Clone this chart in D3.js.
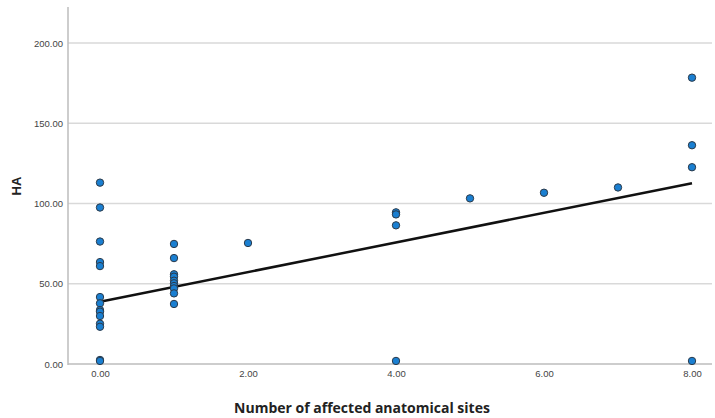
<!DOCTYPE html>
<html><head><meta charset="utf-8">
<script src="https://cdn.jsdelivr.net/npm/d3@7"></script>
<style>body{margin:0;background:#fff}</style>
</head><body>
<svg id="c" width="715" height="418"></svg>
<script>
const xVals = [0,0,0,0,0,0,0,0,0,0,0,0,0,0,
               1,1,1,1,1,1,1,1,1,1,
               2,
               4,4,4,4,
               5,6,7,
               8,8,8,8];
const yVals = [113,97.5,76.3,63.5,61,41.7,37.8,33.6,32.6,29.9,25.1,23.2,2.5,1.9,
               74.8,66,55.9,54.4,51.9,50.3,48.6,47.1,44,37.4,
               75.4,
               94.5,93.2,86.4,1.9,
               103.2,106.7,110,
               178.4,136.3,122.6,1.9];
const xTicks = [0,2,4,6,8];
const yTicks = [0,50,100,150,200];
const fitIntercept = 38.8, fitSlope = 9.23;

(function(){
const svg = d3.select("#c");
const x = d3.scaleLinear().domain([0,8]).range([100,692]);
const y = d3.scaleLinear().domain([0,200]).range([364,43]);
const L = 68, R = 712, T = 7, B = 364;

svg.append("g").selectAll("line").data(yTicks.filter(d=>d>0)).join("line")
  .attr("x1",L).attr("x2",R).attr("y1",d=>y(d)).attr("y2",d=>y(d))
  .attr("stroke","#d9d9d9").attr("stroke-width",1.5);

const yAxis = d3.axisLeft(y).tickValues(yTicks).tickFormat(d3.format(".2f")).tickSize(0).tickPadding(5);
const gy = svg.append("g").attr("transform",`translate(${L},0)`).call(yAxis);
gy.select(".domain").remove();
gy.selectAll("text").attr("font-family","Liberation Sans, Arial, sans-serif").attr("font-size",9.5).attr("fill","#444");
svg.append("line").attr("x1",L).attr("x2",L).attr("y1",T).attr("y2",B+1).attr("stroke","#bdbdbd").attr("stroke-width",1.5);

const xAxis = d3.axisBottom(x).tickValues(xTicks).tickFormat(d3.format(".2f")).tickSize(0).tickPadding(6);
const gx = svg.append("g").attr("transform",`translate(0,${B})`).call(xAxis);
gx.select(".domain").remove();
gx.selectAll("text").attr("font-family","Liberation Sans, Arial, sans-serif").attr("font-size",9.5).attr("fill","#444");
svg.append("line").attr("x1",L).attr("x2",R).attr("y1",B).attr("y2",B).attr("stroke","#bdbdbd").attr("stroke-width",1.5);

svg.append("line")
  .attr("x1",x(0)).attr("y1",y(fitIntercept))
  .attr("x2",x(8)).attr("y2",y(fitIntercept+fitSlope*8))
  .attr("stroke","#111").attr("stroke-width",2.5);

svg.append("g").selectAll("circle").data(xVals.map((d,i)=>[d,yVals[i]])).join("circle")
  .attr("cx",d=>x(d[0])).attr("cy",d=>y(d[1])).attr("r",3.7)
  .attr("fill","#1a7fd1").attr("stroke","#2b3a4a").attr("stroke-width",1);

svg.append("text").attr("transform","translate(21,186) rotate(-90)")
  .attr("text-anchor","middle").attr("font-family","Liberation Sans, Arial, sans-serif")
  .attr("font-weight","bold").attr("font-size",13).attr("fill","#222").text("HA");
svg.append("text").attr("x",362).attr("y",413)
  .attr("text-anchor","middle").attr("font-family","Open Sans, Liberation Sans, sans-serif")
  .attr("font-weight","bold").attr("font-size",14).attr("fill","#222").text("Number of affected anatomical sites");
})();
</script>
</body></html>
